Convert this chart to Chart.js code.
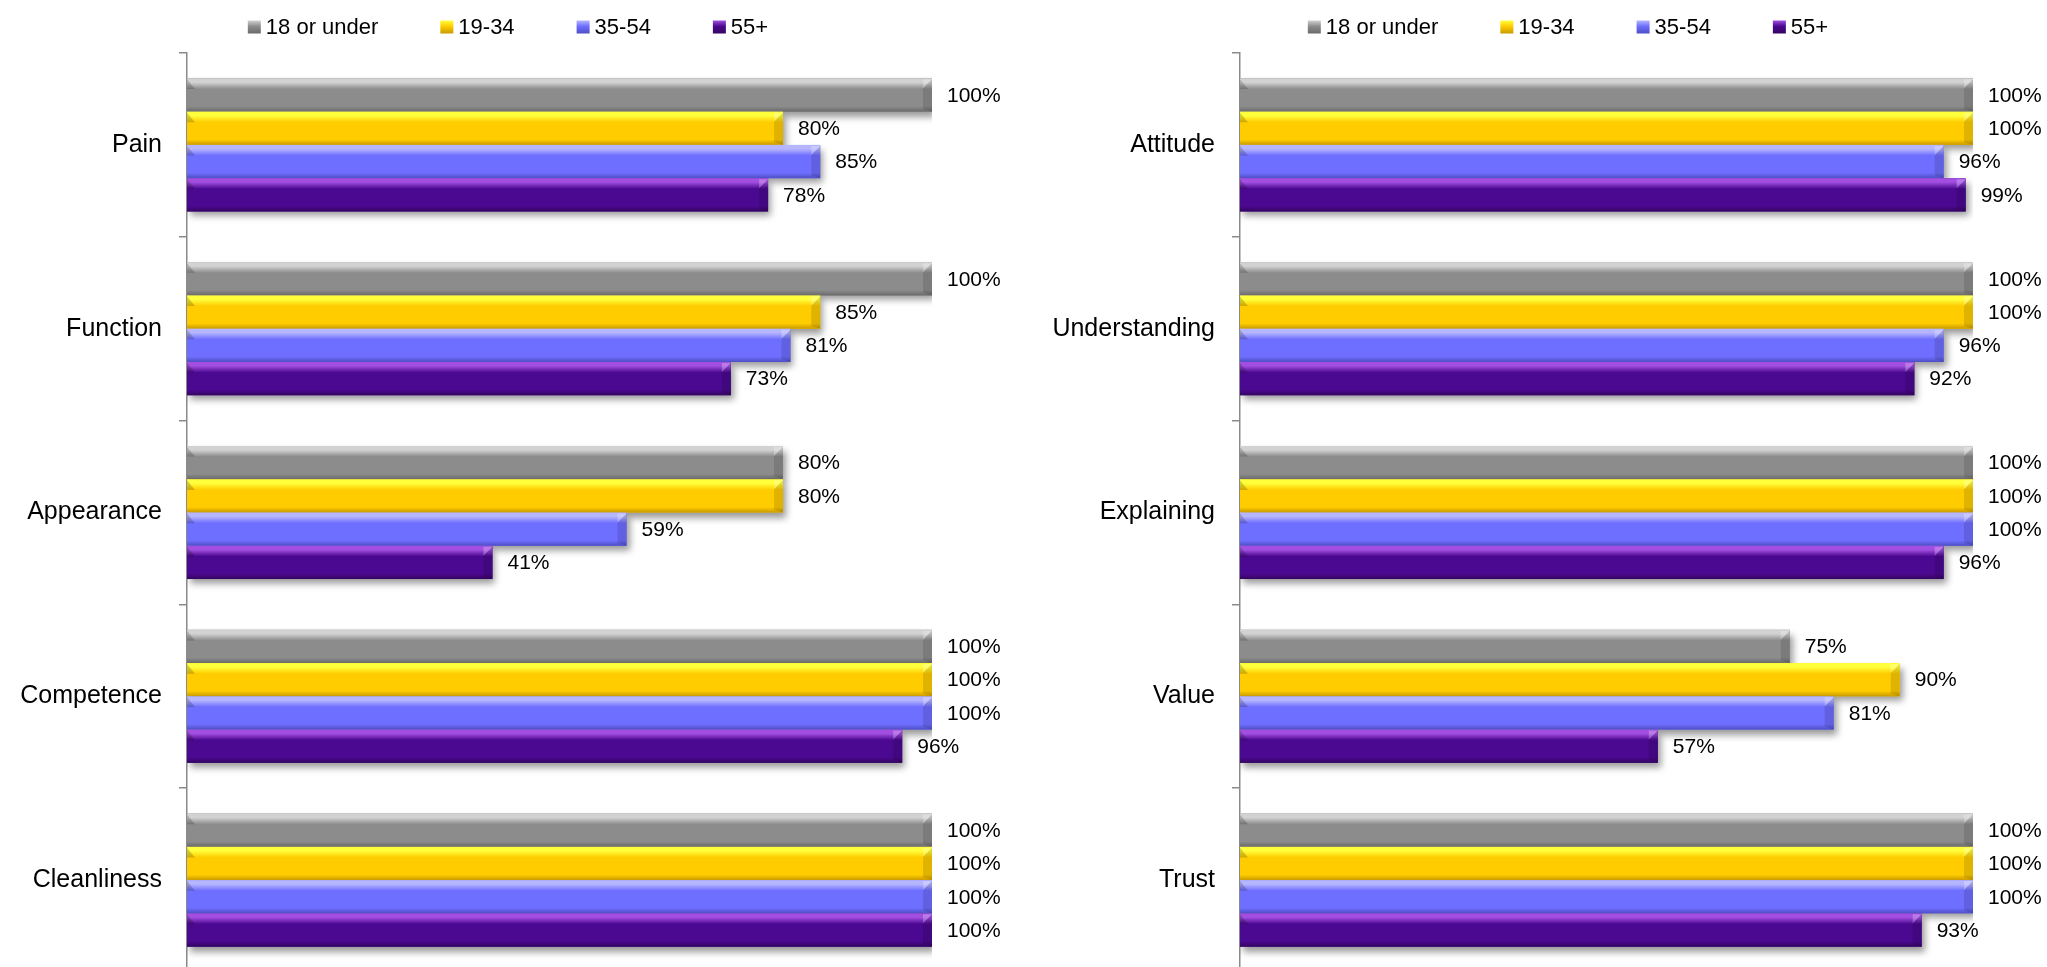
<!DOCTYPE html>
<html>
<head>
<meta charset="utf-8">
<title>Satisfaction by age group</title>
<script src="https://cdn.jsdelivr.net/npm/chart.js@4/dist/chart.umd.min.js"></script>
<style>
    html, body { margin: 0; padding: 0; background: #fff; overflow: hidden; }
    #clinicalChart { position: absolute; left: 0; top: 0; }
    #serviceChart { position: absolute; left: 1020px; top: 0; }
</style>
</head>
<body>
<canvas id="clinicalChart" width="1020" height="1012"></canvas>
<canvas id="serviceChart" width="1027" height="1012"></canvas>
<script>
const ageGroups = ['18 or under', '19-34', '35-54', '55+'];

const clinicalCategories = ['Pain', 'Function', 'Appearance', 'Competence', 'Cleanliness'];
const clinicalUnder18 = [100, 100, 80, 100, 100];
const clinical19to34 = [80, 85, 80, 100, 100];
const clinical35to54 = [85, 81, 59, 100, 100];
const clinical55plus = [78, 73, 41, 96, 100];

const serviceCategories = ['Attitude', 'Understanding', 'Explaining', 'Value', 'Trust'];
const serviceUnder18 = [100, 100, 100, 75, 100];
const service19to34 = [100, 100, 100, 90, 100];
const service35to54 = [96, 96, 100, 81, 100];
const service55plus = [99, 92, 96, 57, 93];

const FONT = "'Liberation Sans', Arial, sans-serif";

// light top band, body colour, dark bottom edge for each age group
const barColors = [
    { hi: '#d2d2d2', main: '#8c8c8c', dark: '#6a6a6a' },
    { hi: '#ffff3c', main: '#ffcc00', dark: '#c99a00' },
    { hi: '#b6b6ff', main: '#6e6eff', dark: '#4e4ec4' },
    { hi: '#a24ee0', main: '#4b0890', dark: '#33055f' }
];

// soft drop shadow under the bars, then a bevelled overlay on top of each one
const bevelBars = {
    id: 'bevelBars',
    beforeDatasetsDraw(chart) {
        const ctx = chart.ctx;
        ctx.save();
        ctx.shadowColor = 'rgba(0,0,0,0.4)';
        ctx.shadowBlur = 7;
        ctx.shadowOffsetX = 3;
        ctx.shadowOffsetY = 5;
    },
    afterDatasetsDraw(chart) {
        const ctx = chart.ctx;
        ctx.restore();
        ctx.save();
        chart.data.datasets.forEach(function(ds, i) {
            const c = barColors[i];
            chart.getDatasetMeta(i).data.forEach(function(bar) {
                const p = bar.getProps(['x', 'y', 'base', 'height'], true);
                const top = p.y - p.height / 2;
                const h = p.height;
                const x0 = p.base;
                const x1 = p.x;

                const g = ctx.createLinearGradient(0, top, 0, top + h);
                g.addColorStop(0, c.hi);
                g.addColorStop(0.12, c.hi);
                g.addColorStop(0.32, c.main);
                g.addColorStop(0.84, c.main);
                g.addColorStop(1, c.dark);
                ctx.fillStyle = g;
                ctx.fillRect(x0, top, x1 - x0, h);

                // chamfered right end
                const bev = Math.min(9, (x1 - x0) / 3);
                ctx.fillStyle = 'rgba(0,0,0,0.12)';
                ctx.beginPath();
                ctx.moveTo(x1 - bev, top + h * 0.3);
                ctx.lineTo(x1, top + 1);
                ctx.lineTo(x1, top + h);
                ctx.lineTo(x1 - bev, top + h - 3);
                ctx.closePath();
                ctx.fill();
                ctx.fillStyle = 'rgba(255,255,255,0.25)';
                ctx.beginPath();
                ctx.moveTo(x1 - bev, top + 1);
                ctx.lineTo(x1, top + 1);
                ctx.lineTo(x1 - bev, top + h * 0.3);
                ctx.closePath();
                ctx.fill();

                // small dark notch at the left end
                ctx.fillStyle = 'rgba(0,0,0,0.18)';
                ctx.beginPath();
                ctx.moveTo(x0, top + 1);
                ctx.lineTo(x0 + 8, top + h * 0.32);
                ctx.lineTo(x0, top + h * 0.32);
                ctx.closePath();
                ctx.fill();
            });
        });
        ctx.restore();
    }
};

const valueLabels = {
    id: 'valueLabels',
    afterDatasetsDraw(chart) {
        const ctx = chart.ctx;
        ctx.save();
        ctx.font = '21px ' + FONT;
        ctx.fillStyle = '#000';
        ctx.textAlign = 'left';
        ctx.textBaseline = 'middle';
        chart.data.datasets.forEach(function(ds, i) {
            chart.getDatasetMeta(i).data.forEach(function(bar, j) {
                ctx.fillText(ds.data[j] + '%', bar.x + 15, bar.y + 1);
            });
        });
        ctx.restore();
    }
};

// legend row across the top, centred on opts.center
const ageLegend = {
    id: 'ageLegend',
    afterDraw(chart, args, opts) {
        const ctx = chart.ctx;
        const box = 13, boxGap = 5, itemGap = 62;
        ctx.save();
        ctx.font = '22px ' + FONT;
        ctx.textBaseline = 'middle';
        const widths = chart.data.datasets.map(ds => ctx.measureText(ds.label).width);
        let total = 0;
        widths.forEach(w => { total += box + boxGap + w; });
        total += itemGap * (widths.length - 1);
        let x = opts.center - total / 2;
        const y = opts.y;
        chart.data.datasets.forEach(function(ds, i) {
            const c = barColors[i];
            const g = ctx.createLinearGradient(x, y - box / 2, x, y + box / 2);
            g.addColorStop(0, c.hi);
            g.addColorStop(0.45, c.main);
            g.addColorStop(1, c.dark);
            ctx.fillStyle = g;
            ctx.fillRect(x, y - box / 2, box, box);
            ctx.fillStyle = '#000';
            ctx.fillText(ds.label, x + box + boxGap, y + 1);
            x += box + boxGap + widths[i] + itemGap;
        });
        ctx.restore();
    }
};

function buildChart(canvasId, categories, series, axisWidth, rightPad, legendCenter) {
    return new Chart(document.getElementById(canvasId), {
        type: 'bar',
        data: {
            labels: categories,
            datasets: series.map(function(values, i) {
                return {
                    label: ageGroups[i],
                    data: values,
                    backgroundColor: barColors[i].main,
                    borderWidth: 0,
                    categoryPercentage: 0.724,
                    barPercentage: 1
                };
            })
        },
        options: {
            indexAxis: 'y',
            responsive: false,
            animation: false,
            layout: { padding: { top: 53, bottom: 40, left: 0, right: rightPad } },
            scales: {
                x: { display: false, min: 0, max: 100 },
                y: {
                    grid: { drawOnChartArea: false, tickLength: 8, color: '#8a8a8a', lineWidth: 1.5, offset: true },
                    border: { color: '#8a8a8a', width: 1.5 },
                    ticks: { color: '#000', font: { family: FONT, size: 25 }, padding: 17 },
                    afterFit: function(scale) { scale.width = axisWidth; }
                }
            },
            plugins: {
                legend: { display: false },
                tooltip: { enabled: false },
                ageLegend: { center: legendCenter, y: 27 }
            }
        },
        plugins: [bevelBars, valueLabels, ageLegend]
    });
}

buildChart('clinicalChart', clinicalCategories,
    [clinicalUnder18, clinical19to34, clinical35to54, clinical55plus], 187, 88, 508);
buildChart('serviceChart', serviceCategories,
    [serviceUnder18, service19to34, service35to54, service55plus], 220, 74, 548);
</script>
</body>
</html>
